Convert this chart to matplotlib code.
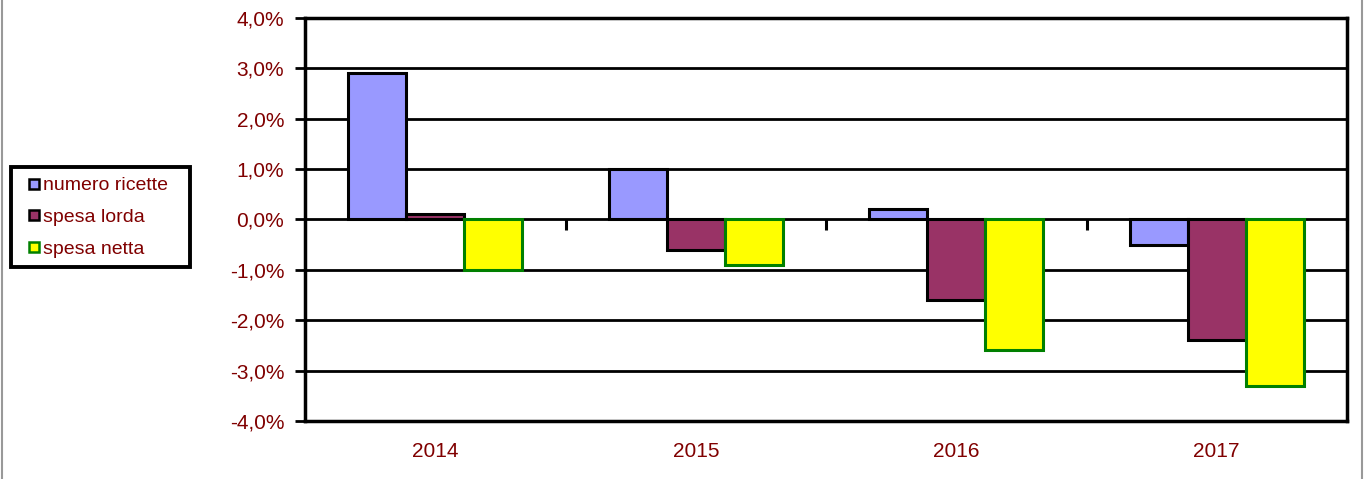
import matplotlib.pyplot as plt
import numpy as np
from matplotlib.lines import Line2D

plt.rcParams['font.family'] = ['Liberation Sans', 'DejaVu Sans']

anni = ['2014', '2015', '2016', '2017']
numero_ricette = [2.9, 1.0, 0.2, -0.5]
spesa_lorda = [0.1, -0.6, -1.6, -2.4]
spesa_netta = [-1.0, -0.9, -2.6, -3.3]
serie = ['numero ricette', 'spesa lorda', 'spesa netta']
yticks = [-4, -3, -2, -1, 0, 1, 2, 3, 4]

rosso = '#800000'

fig = plt.figure(figsize=(13.65, 4.79), dpi=100)
ax = fig.add_axes([305/1365, 1-421/479, (1347-305)/1365, (421-18)/479])

x = np.arange(len(anni))
w = 0.223
ax.bar(x - w, numero_ricette, w, color='#9999FF', edgecolor='black', linewidth=2.2, zorder=3)
ax.bar(x, spesa_lorda, w, color='#993366', edgecolor='black', linewidth=2.2, zorder=3)
ax.bar(x + w, spesa_netta, w, color='#FFFF00', edgecolor='#008000', linewidth=2.2, zorder=3)

ax.set_xlim(-0.5, 3.5)
ax.set_ylim(-4, 4)
ax.set_yticks(yticks)
ax.set_yticklabels([('%.1f%%' % v).replace('.', ',') for v in yticks])
ax.yaxis.grid(True, color='black', linewidth=2.0)
ax.set_axisbelow(True)
ax.tick_params(axis='y', colors='black', labelcolor=rosso, labelsize=15, length=7, width=2, pad=8)
ax.set_xticks(x)
ax.set_xticklabels(anni)
ax.tick_params(axis='x', length=0, labelcolor=rosso, labelsize=15, pad=15)
for s in ax.spines.values():
    s.set_linewidth(2.5)

# asse x sullo zero con tacche tra le categorie (verso il basso)
sec = ax.secondary_xaxis(0.5)
sec.set_xticks(x + 0.5)
sec.set_xticklabels([])
sec.tick_params(length=8, width=2.2, direction='in')
sec.spines['bottom'].set_linewidth(2.0)

# legenda
handles = [Line2D([], [], marker='s', linestyle='none', markersize=7,
                  markerfacecolor=c, markeredgecolor=e, markeredgewidth=1.8)
           for c, e in [('#9999FF', 'black'), ('#993366', 'black'), ('#FFFF00', '#008000')]]
leg = fig.legend(handles, serie, loc='upper left',
                 bbox_to_anchor=(11/1365, 1-177/479, 179/1365, 10/479), mode='expand',
                 frameon=True, fancybox=False, edgecolor='black', framealpha=1, fontsize=14,
                 handlelength=1.4, handletextpad=-0.26, labelspacing=0.72, borderpad=0.5,
                 borderaxespad=0)
leg.get_frame().set_linewidth(2.8)
for t in leg.get_texts():
    t.set_color(rosso)

# bordo esterno
fig.add_artist(Line2D([2/1365, 2/1365], [0, 1], color='#999999', linewidth=1.5))
fig.add_artist(Line2D([1362/1365, 1362/1365], [0, 1], color='#999999', linewidth=1.5))

fig.savefig('out.png', dpi=100)
